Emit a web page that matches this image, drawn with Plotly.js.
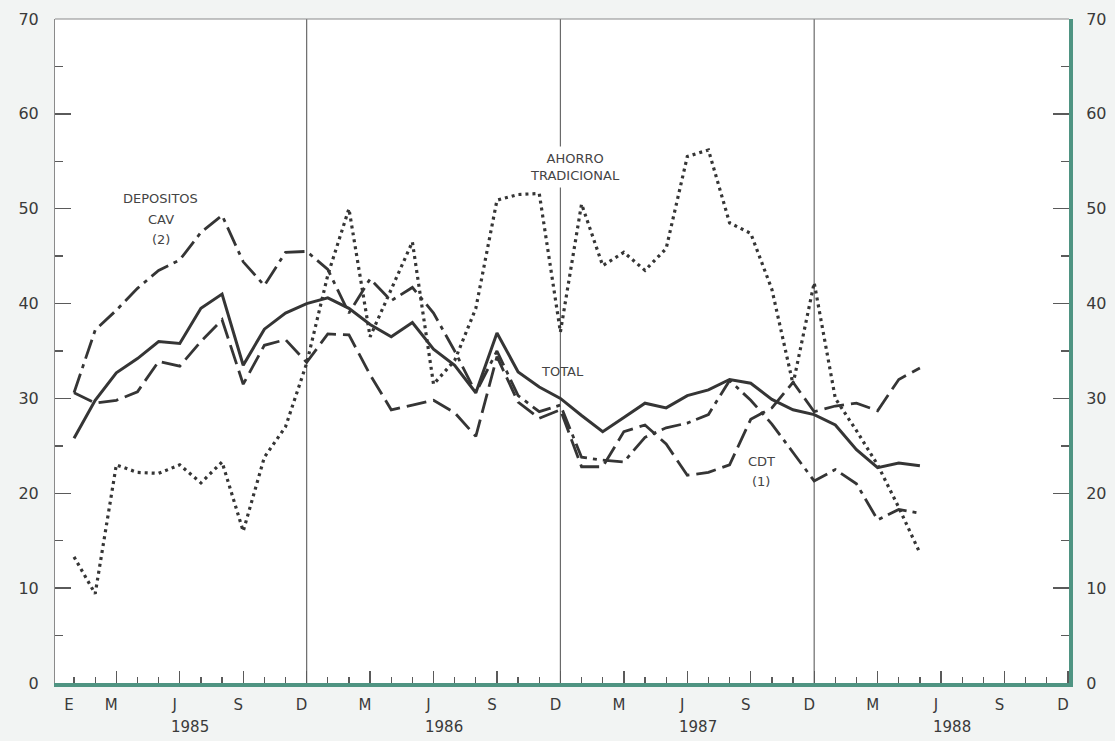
<!DOCTYPE html>
<html>
<head>
<meta charset="utf-8">
<script src="https://cdn.plot.ly/plotly-3.0.1.min.js"></script>
<style>
html,body{margin:0;padding:0;background:#f2f4f3;}
#chart{width:1115px;height:741px;}
</style>
</head>
<body>
<div id="chart"></div>
<script>
// Months from Jan 1985 (index 0) to May 1988 (index 40)
const periods = [
 '1985-01','1985-02','1985-03','1985-04','1985-05','1985-06','1985-07','1985-08','1985-09','1985-10','1985-11','1985-12',
 '1986-01','1986-02','1986-03','1986-04','1986-05','1986-06','1986-07','1986-08','1986-09','1986-10','1986-11','1986-12',
 '1987-01','1987-02','1987-03','1987-04','1987-05','1987-06','1987-07','1987-08','1987-09','1987-10','1987-11','1987-12',
 '1988-01','1988-02','1988-03','1988-04','1988-05'
];
const monthLetters = ['E','','M','','','J','','','S','','','D'];
const years = ['1985','1986','1987','1988'];

const total = [25.8,29.8,32.7,34.2,36.0,35.8,39.5,41.0,33.5,37.3,39.0,40.0,
               40.6,39.5,37.8,36.5,38.0,35.2,33.5,30.6,36.9,32.8,31.2,30.0,
               28.2,26.5,28.0,29.5,29.0,30.3,30.9,32.0,31.6,29.9,28.8,28.3,
               27.2,24.6,22.7,23.2,22.9];
const cdt   = [30.6,29.5,29.8,30.7,33.9,33.4,36.0,38.3,31.5,35.6,36.2,33.8,
               36.8,36.7,32.5,28.8,29.3,29.8,28.5,26.0,34.4,29.6,27.9,28.8,
               22.8,22.8,26.5,27.2,25.2,21.9,22.2,23.0,27.8,29.0,31.7,28.6,
               29.2,29.5,28.7,32.0,33.2];
const cav   = [30.6,37.2,39.3,41.6,43.5,44.6,47.5,49.3,44.4,41.9,45.4,45.5,
               43.6,39.0,42.6,40.3,41.7,39.0,35.0,30.6,35.0,30.3,28.6,29.3,
               23.8,23.5,23.3,25.9,26.9,27.4,28.3,31.9,29.8,27.3,24.3,21.3,
               22.5,21.0,17.2,18.3,17.9];
const ahorro= [13.3,9.4,23.0,22.2,22.1,23.0,21.1,23.3,16.0,23.8,27.0,33.7,
               43.0,50.0,36.5,41.5,46.5,31.5,34.0,39.5,50.9,51.5,51.6,37.0,
               50.5,44.0,45.4,43.5,45.8,55.5,56.2,48.5,47.4,41.5,31.5,42.2,
               30.0,26.6,23.0,18.5,13.7];

const yTicks = [0,10,20,30,40,50,60,70];
const decMonths = [11,23,35];

const xIdx = periods.map((p,i)=>i);
const ink = '#353535';
const green = '#4f9482';
const labelColor = '#444444';
const fontFam = 'DejaVu Sans, Verdana, sans-serif';

// x tick labels (the "E" only opens the first year)
const tickvals = [], ticktext = [];
for (let yr = 0; yr < years.length; yr++) {
  monthLetters.forEach((l,i)=>{
    if (l && !(l === 'E' && yr > 0)) { tickvals.push(yr*12+i); ticktext.push(l); }
  });
}
const quarterTicks = [];
for (let m = 2; m < 48; m += 3) quarterTicks.push(m);

const traces = [
  {x:xIdx, y:ahorro, mode:'lines', line:{color:ink, width:3.2, dash:'3px,4px'}, name:'AHORRO TRADICIONAL'},
  {x:xIdx, y:cav, mode:'lines', line:{color:ink, width:2.8, dash:'20px,6px,4px,6px'}, name:'DEPOSITOS CAV'},
  {x:xIdx, y:cdt, mode:'lines', line:{color:ink, width:2.8, dash:'20px,7px'}, name:'CDT'},
  {x:xIdx, y:total, mode:'lines', line:{color:ink, width:3}, name:'TOTAL'},
  {x:[], y:[], xaxis:'x2', yaxis:'y2', showlegend:false, hoverinfo:'skip'}
];

const xr = [-0.9, 47.05];
const shapes = decMonths.map(m => ({type:'line', xref:'x', yref:'paper', x0:m, x1:m, y0:0, y1:1,
  line:{color:'#6a6a6a', width:1.2}, layer:'below'}));
shapes.push({type:'line', xref:'paper', yref:'paper', x0:0, x1:1, y0:1, y1:1, line:{color:'#8a8a8a', width:1}});

const annotations = [];
years.forEach((yr,i)=>annotations.push({x:5.5+12*i, xref:'x', y:0, yref:'paper', yanchor:'top', yshift:-33,
  text:yr, showarrow:false, font:{size:15, color:'#3a3a3a', family:fontFam}}));
function lab(text, x, y) {
  annotations.push({x:x, y:y, xref:'x', yref:'y', text:text, showarrow:false,
    font:{size:13, color:labelColor, family:fontFam}});
}
lab('DEPOSITOS', 4.1, 51.1);
lab('CAV', 4.1, 48.9);
lab('(2)', 4.1, 46.8);
annotations.push({x:23.7, y:54.4, xref:'x', yref:'y', text:'AHORRO<br>TRADICIONAL', showarrow:false,
  font:{size:13, color:labelColor, family:fontFam}, bgcolor:'#ffffff', borderpad:4});
lab('TOTAL', 23.1, 32.8);
lab('CDT', 32.5, 23.3);
lab('(1)', 32.5, 21.2);

const axTick = '#5a5a5a';
const layout = {
  width:1115, height:741,
  margin:{l:55, r:46, t:19, b:58, pad:0},
  paper_bgcolor:'#f2f4f3', plot_bgcolor:'#ffffff',
  showlegend:false,
  font:{family:fontFam, color:'#3a3a3a', size:15},
  xaxis:{range:xr, tickmode:'array', tickvals:tickvals, ticktext:ticktext, ticks:'',
    showgrid:false, zeroline:false, showline:true, linecolor:green, linewidth:4,
    tickfont:{size:15, color:'#3a3a3a'}, ticklabelstandoff:5, ticklabelshift:-5},
  xaxis2:{range:xr, overlaying:'x', anchor:'y', side:'bottom', tickmode:'array', tickvals:quarterTicks,
    ticks:'inside', ticklen:12, tickwidth:1.3, tickcolor:axTick, showticklabels:false,
    showgrid:false, zeroline:false, showline:false,
    minor:{tick0:0, dtick:1, ticks:'inside', ticklen:6, tickwidth:1.3, tickcolor:axTick, showgrid:false}},
  yaxis:{range:[0,70], tickmode:'array', tickvals:yTicks, ticks:'inside', ticklen:16, tickwidth:1.3, tickcolor:axTick,
    minor:{tick0:0, dtick:5, ticks:'inside', ticklen:8, tickwidth:1.3, tickcolor:axTick, showgrid:false},
    showgrid:false, zeroline:false, showline:true, linecolor:'#8a8a8a', linewidth:1,
    tickfont:{size:16, color:'#3a3a3a'}, ticklabelstandoff:12},
  yaxis2:{range:[0,70], overlaying:'y', side:'right', anchor:'x2', tickmode:'array', tickvals:yTicks,
    ticks:'inside', ticklen:16, tickwidth:1.3, tickcolor:axTick,
    minor:{tick0:0, dtick:5, ticks:'inside', ticklen:8, tickwidth:1.3, tickcolor:axTick, showgrid:false},
    showgrid:false, zeroline:false, showline:true, linecolor:green, linewidth:4,
    tickfont:{size:16, color:'#3a3a3a'}, ticklabelstandoff:10},
  shapes:shapes,
  annotations:annotations
};

Plotly.newPlot('chart', traces, layout, {displayModeBar:false, staticPlot:true});
</script>
</body>
</html>
